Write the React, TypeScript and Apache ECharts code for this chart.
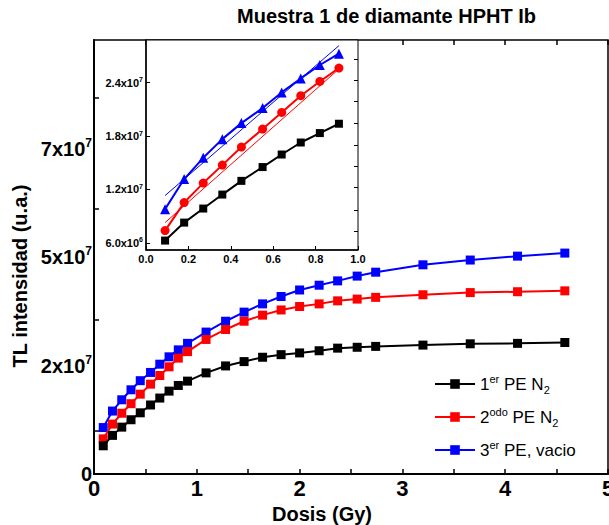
import React, { useEffect, useRef } from 'react';
import * as echarts from 'echarts';

const FONT = '"Liberation Sans", Arial, Helvetica, sans-serif';

// Main plot data (dose in Gy, TL intensity in axis units)
const doseMain = [0.09, 0.18, 0.27, 0.36, 0.45, 0.55, 0.64, 0.73, 0.82, 0.91, 1.09, 1.28, 1.46, 1.64, 1.82, 2.0, 2.19, 2.37, 2.56, 2.74, 3.2, 3.66, 4.12, 4.58];
const pe1Main = [0.65e7, 0.89e7, 1.08e7, 1.25e7, 1.41e7, 1.59e7, 1.75e7, 1.91e7, 2.04e7, 2.14e7, 2.33e7, 2.49e7, 2.59e7, 2.69e7, 2.75e7, 2.79e7, 2.84e7, 2.9e7, 2.92e7, 2.94e7, 2.97e7, 3.0e7, 3.01e7, 3.03e7];
const pe2Main = [0.81e7, 1.15e7, 1.4e7, 1.62e7, 1.84e7, 2.07e7, 2.27e7, 2.47e7, 2.67e7, 2.82e7, 3.1e7, 3.33e7, 3.52e7, 3.66e7, 3.78e7, 3.86e7, 3.92e7, 3.99e7, 4.03e7, 4.07e7, 4.13e7, 4.18e7, 4.2e7, 4.22e7];
const pe3Main = [1.07e7, 1.45e7, 1.71e7, 1.94e7, 2.15e7, 2.34e7, 2.53e7, 2.7e7, 2.86e7, 3.01e7, 3.27e7, 3.52e7, 3.73e7, 3.92e7, 4.09e7, 4.24e7, 4.35e7, 4.45e7, 4.56e7, 4.65e7, 4.82e7, 4.93e7, 5.02e7, 5.09e7];

// Inset data
const doseInset = [0.09, 0.18, 0.27, 0.36, 0.45, 0.55, 0.64, 0.73, 0.82, 0.91];
const pe1Inset = [6.26e6, 8.28e6, 9.86e6, 11.43e6, 12.97e6, 14.52e6, 15.93e6, 17.28e6, 18.34e6, 19.39e6];
const pe2Inset = [7.38e6, 10.53e6, 12.72e6, 14.74e6, 16.77e6, 18.79e6, 20.66e6, 22.54e6, 24.14e6, 25.65e6];
const pe3Inset = [9.79e6, 13.17e6, 15.56e6, 17.66e6, 19.46e6, 21.15e6, 22.91e6, 24.48e6, 25.99e6, 27.26e6];
const fitX = [0.09, 0.91];
const fit2 = [8.28e6, 25.54e6];
const fit3 = [11.32e6, 28.16e6];

// Tick labels
const mainYLabels: Record<number, string> = { 0: '{b|0}', 25: '{b|2x10}{s|7}', 50: '{b|5x10}{s|7}', 75: '{b|7x10}{s|7}', 100: '' };
const mainYMinorTicks = [1.0e7, 3.56e7, 6.12e7, 8.68e7];
const insetYValues = [6e6, 1.2e7, 1.8e7, 2.4e7];
const insetYLabels = ['{b|6.0x10}{s|6}', '{b|1.2x10}{s|7}', '{b|1.8x10}{s|7}', '{b|2.4x10}{s|7}'];
const insetYMinorTicks = [7.3e6, 9.7e6, 12.2e6, 14.6e6, 17.0e6, 19.5e6, 21.9e6, 24.3e6, 26.6e6];

const seriesNames = ['1er PE N2', '2odo PE N2', '3er PE, vacio'];
const legendRich: Record<string, string> = {
  '1er PE N2': '{b|1}{sup|er}{b| PE N}{sub|2}',
  '2odo PE N2': '{b|2}{sup|odo}{b| PE N}{sub|2}',
  '3er PE, vacio': '{b|3}{sup|er}{b| PE, vacio}',
};
const colors = ['#000000', '#ff0000', '#0000ff'];

const pairs = (xs: number[], ys: number[]) => xs.map((x, i) => [x, ys[i]]);

export default function App() {
  const ref = useRef<HTMLDivElement>(null);
  useEffect(() => {
    document.body.style.margin = '0';
    const chart = echarts.init(ref.current!, null, { renderer: 'svg' });
    const black = { color: '#000', fontFamily: FONT };
    const mainLine = (name: string, data: number[], color: string, z: number) => ({
      name,
      type: 'line',
      xAxisIndex: 0,
      yAxisIndex: 0,
      data: pairs(doseMain, data),
      symbol: 'rect',
      symbolSize: 9,
      itemStyle: { color },
      lineStyle: { color, width: 2 },
      z,
    });
    const insetLine = (name: string, data: number[], color: string, symbol: string, size: number) => ({
      name,
      type: 'line',
      xAxisIndex: 2,
      yAxisIndex: 1,
      data: pairs(doseInset, data),
      symbol,
      symbolSize: size,
      itemStyle: { color },
      lineStyle: { color, width: 2 },
      z: 5,
    });
    const fitLine = (name: string, data: number[], color: string) => ({
      name,
      type: 'line',
      xAxisIndex: 2,
      yAxisIndex: 1,
      data: pairs(fitX, data),
      symbol: 'none',
      lineStyle: { color, width: 1 },
      z: 5,
    });
    const option: any = {
      animation: false,
      backgroundColor: '#fff',
      textStyle: { fontFamily: FONT },
      title: {
        text: 'Muestra 1 de diamante HPHT Ib',
        left: 237,
        top: 6,
        padding: 0,
        textStyle: { ...black, fontSize: 20, fontWeight: 'bold' },
      },
      legend: {
        data: seriesNames,
        orient: 'vertical',
        left: 434,
        top: 373,
        itemGap: 11,
        itemWidth: 40,
        itemHeight: 12,
        padding: 0,
        formatter: (name: string) => legendRich[name] || name,
        textStyle: {
          ...black,
          fontSize: 17,
          rich: {
            b: { ...black, fontSize: 17, lineHeight: 22 },
            sup: { ...black, fontSize: 11, lineHeight: 11, verticalAlign: 'top' },
            sub: { ...black, fontSize: 11, lineHeight: 11, verticalAlign: 'bottom' },
          },
        },
      },
      grid: [
        { left: 94, top: 40, width: 514, height: 434, show: true, borderColor: '#000', borderWidth: 1.5, backgroundColor: 'transparent', outerBoundsMode: 'none', containLabel: false },
        { left: 146, top: 40, width: 212, height: 210, show: true, borderColor: '#000', borderWidth: 1, backgroundColor: '#fff', outerBoundsMode: 'none', containLabel: false, z: 3 },
      ],
      xAxis: [
        {
          type: 'value', gridIndex: 0, min: 0, max: 5, interval: 0.5,
          axisLine: { show: true, lineStyle: { color: '#000', width: 2 } },
          axisTick: { show: true, inside: true, length: 5, lineStyle: { color: '#000', width: 1.5 } },
          axisLabel: {
            ...black, fontSize: 22, fontWeight: 'bold', margin: 3,
            formatter: (v: number) => (Math.abs(v - Math.round(v)) < 1e-9 ? String(Math.round(v)) : ''),
          },
          splitLine: { show: false },
          name: 'Dosis (Gy)', nameLocation: 'middle', nameGap: 25,
          nameTextStyle: { ...black, fontSize: 20, fontWeight: 'bold', padding: [0, 58, 0, 0] },
        },
        {
          type: 'value', gridIndex: 0, position: 'top', min: 0, max: 5, interval: 0.5,
          axisLine: { show: false },
          axisTick: { show: true, inside: true, length: 5, lineStyle: { color: '#000', width: 1.5 } },
          axisLabel: { show: false },
          splitLine: { show: false },
        },
        {
          type: 'value', gridIndex: 1, min: 0, max: 1, interval: 0.2,
          axisLine: { show: true, lineStyle: { color: '#000', width: 1.5 } },
          axisTick: { show: true, inside: true, length: 4, lineStyle: { color: '#000', width: 1 } },
          axisLabel: { ...black, fontSize: 11, fontWeight: 'bold', margin: 3, formatter: (v: number) => v.toFixed(1) },
          splitLine: { show: false },
          z: 4,
        },
      ],
      yAxis: [
        {
          type: 'value', gridIndex: 0, min: 0, max: 1e8, interval: 2.5e7,
          axisLine: { show: true, lineStyle: { color: '#000', width: 2 } },
          axisTick: { show: true, inside: true, length: 5, customValues: mainYMinorTicks, lineStyle: { color: '#000', width: 1.5 } },
          axisLabel: {
            ...black, margin: 2,
            formatter: (v: number) => mainYLabels[Math.round(v / 1e6)] ?? '',
            rich: {
              b: { ...black, fontSize: 20, fontWeight: 'bold', lineHeight: 24 },
              s: { ...black, fontSize: 12, fontWeight: 'bold', lineHeight: 12, verticalAlign: 'top' },
            },
          },
          splitLine: { show: false },
          name: 'TL intensidad (u.a.)', nameLocation: 'middle', nameRotate: 90, nameGap: 58,
          nameTextStyle: { ...black, fontSize: 20, fontWeight: 'bold', padding: [0, 38, 0, 0] },
        },
        {
          type: 'value', gridIndex: 1, min: 5.2e6, max: 2.88e7,
          axisLine: { show: true, lineStyle: { color: '#000', width: 1.5 } },
          axisTick: { show: true, inside: true, length: 4, customValues: insetYValues, lineStyle: { color: '#000', width: 1 } },
          axisLabel: {
            ...black, margin: 3, customValues: insetYValues,
            formatter: (v: number) => {
              const i = insetYValues.findIndex((t) => Math.abs(t - v) < 1);
              return i >= 0 ? insetYLabels[i] : '';
            },
            rich: {
              b: { ...black, fontSize: 11, fontWeight: 'bold', lineHeight: 13 },
              s: { ...black, fontSize: 7, fontWeight: 'bold', lineHeight: 7, verticalAlign: 'top' },
            },
          },
          splitLine: { show: false },
          z: 4,
        },
        {
          type: 'value', gridIndex: 1, position: 'right', min: 5.2e6, max: 2.88e7,
          axisLine: { show: false },
          axisTick: { show: true, inside: true, length: 4, customValues: insetYMinorTicks, lineStyle: { color: '#000', width: 1 } },
          axisLabel: { show: false },
          splitLine: { show: false },
          z: 4,
        },
      ],
      series: [
        mainLine(seriesNames[0], pe1Main, colors[0], 4),
        mainLine(seriesNames[1], pe2Main, colors[1], 3),
        mainLine(seriesNames[2], pe3Main, colors[2], 2),
        insetLine('inset PE1', pe1Inset, colors[0], 'rect', 8),
        insetLine('inset PE2', pe2Inset, colors[1], 'circle', 9),
        insetLine('inset PE3', pe3Inset, colors[2], 'triangle', 10),
        fitLine('ajuste PE2', fit2, colors[1]),
        fitLine('ajuste PE3', fit3, colors[2]),
      ],
    };
    chart.setOption(option);
    return () => chart.dispose();
  }, []);
  return <div ref={ref} style={{ position: 'fixed', left: 0, top: 0, width: 609, height: 525, background: '#fff' }} />;
}
